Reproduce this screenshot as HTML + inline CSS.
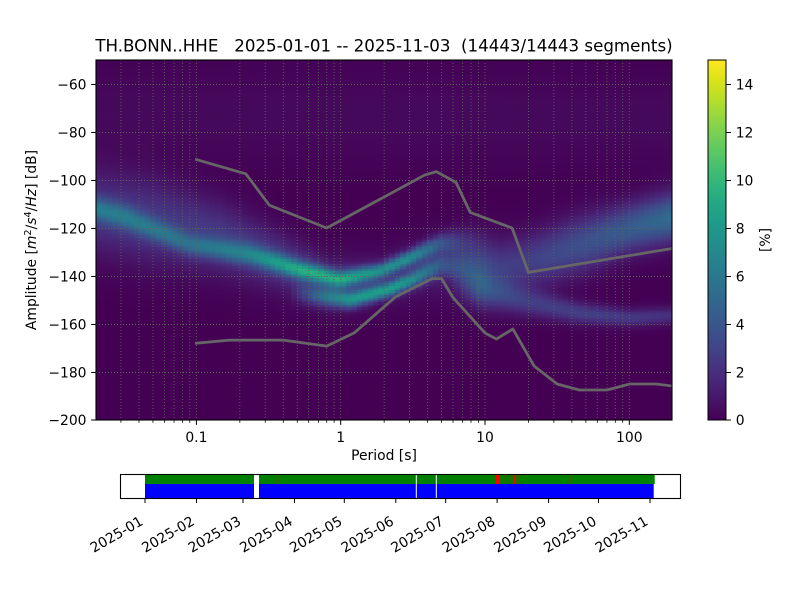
<!DOCTYPE html>
<html>
<head>
<meta charset="utf-8">
<style>
html,body{margin:0;padding:0;background:#ffffff;}
body{width:800px;height:600px;position:relative;overflow:hidden;font-family:"DejaVu Sans","Liberation Sans",sans-serif;}
#c{position:absolute;left:96px;top:60px;width:576px;height:360px;background:#440154;}
#ov{position:absolute;left:0;top:0;}
</style>
</head>
<body>
<canvas id="c" width="576" height="360"></canvas>
<svg id="ov" width="800" height="600" viewBox="0 0 800 600" font-family="DejaVu Sans, Liberation Sans, sans-serif">
<defs>
<clipPath id="pa"><rect x="96" y="60" width="576" height="360"/></clipPath>
<linearGradient id="vir" x1="0" y1="1" x2="0" y2="0">
<stop offset="0" stop-color="#440154"/>
<stop offset="0.05" stop-color="#471365"/>
<stop offset="0.1" stop-color="#482475"/>
<stop offset="0.15" stop-color="#463480"/>
<stop offset="0.2" stop-color="#414487"/>
<stop offset="0.25" stop-color="#3b528b"/>
<stop offset="0.3" stop-color="#355f8d"/>
<stop offset="0.35" stop-color="#2f6c8e"/>
<stop offset="0.4" stop-color="#2a788e"/>
<stop offset="0.45" stop-color="#25848e"/>
<stop offset="0.5" stop-color="#21918c"/>
<stop offset="0.55" stop-color="#1e9c89"/>
<stop offset="0.6" stop-color="#22a884"/>
<stop offset="0.65" stop-color="#2fb47c"/>
<stop offset="0.7" stop-color="#44bf70"/>
<stop offset="0.75" stop-color="#5ec962"/>
<stop offset="0.8" stop-color="#7ad151"/>
<stop offset="0.85" stop-color="#9bd93c"/>
<stop offset="0.9" stop-color="#bddf26"/>
<stop offset="0.95" stop-color="#dfe318"/>
<stop offset="1" stop-color="#fde725"/>
</linearGradient>
</defs>

<!-- grid -->
<g clip-path="url(#pa)" stroke="#5e6258" stroke-width="0.9" stroke-dasharray="1 2" fill="none">
<path d="M120.95 60V420M138.98 60V420M152.96 60V420M164.39 60V420M174.05 60V420M182.42 60V420M189.8 60V420M196.4 60V420M239.84 60V420M265.25 60V420M283.28 60V420M297.26 60V420M308.69 60V420M318.35 60V420M326.72 60V420M334.1 60V420M340.7 60V420M384.14 60V420M409.55 60V420M427.58 60V420M441.56 60V420M452.99 60V420M462.65 60V420M471.02 60V420M478.4 60V420M485 60V420M528.44 60V420M553.85 60V420M571.88 60V420M585.86 60V420M597.29 60V420M606.95 60V420M615.32 60V420M622.7 60V420M629.3 60V420"/>
<path d="M96 84.5H672M96 132.5H672M96 180.5H672M96 228.5H672M96 276.5H672M96 324.5H672M96 372.5H672"/>
</g>

<!-- noise models -->
<g clip-path="url(#pa)" fill="none" stroke="#666666" stroke-width="2.8" stroke-linejoin="round" stroke-linecap="square">
<polyline points="196.4,159.6 245.8,173.8 269.3,205.2 326.7,228 424.4,175.2 436.3,171.6 456.0,182.4 470.2,212.4 512.1,228 528.4,272.4 708.7,242.4"/>
<polyline points="196.4,343.2 229.6,340.1 283.3,340.1 326.7,346.1 354.2,332.9 395.6,296.8 432.1,278.6 441.6,278.6 453.0,297.6 485.0,333 496.4,339 512.9,329 534.1,366 557.1,384 579.3,390 607.0,390 629.9,384 656.4,384 703.7,390"/>
</g>

<!-- axes frame -->
<rect x="96" y="60" width="576" height="360" fill="none" stroke="#000" stroke-width="1.1"/>

<!-- x ticks -->
<g stroke="#000" stroke-width="0.8">
<path d="M196.4 420V424.9M340.7 420V424.9M485 420V424.9M629.3 420V424.9" stroke-width="1"/>
<path d="M120.95 420V422.8M138.98 420V422.8M152.96 420V422.8M164.39 420V422.8M174.05 420V422.8M182.42 420V422.8M189.8 420V422.8M239.84 420V422.8M265.25 420V422.8M283.28 420V422.8M297.26 420V422.8M308.69 420V422.8M318.35 420V422.8M326.72 420V422.8M334.1 420V422.8M384.14 420V422.8M409.55 420V422.8M427.58 420V422.8M441.56 420V422.8M452.99 420V422.8M462.65 420V422.8M471.02 420V422.8M478.4 420V422.8M528.44 420V422.8M553.85 420V422.8M571.88 420V422.8M585.86 420V422.8M597.29 420V422.8M606.95 420V422.8M615.32 420V422.8M622.7 420V422.8"/>
</g>
<g font-size="13.89" fill="#000" text-anchor="middle">
<text x="196.4" y="442">0.1</text>
<text x="340.7" y="442">1</text>
<text x="485" y="442">10</text>
<text x="629.3" y="442">100</text>
<text x="384" y="460">Period [s]</text>
</g>

<!-- y ticks -->
<g stroke="#000" stroke-width="1">
<path d="M91.1 84.5H96M91.1 132.5H96M91.1 180.5H96M91.1 228.5H96M91.1 276.5H96M91.1 324.5H96M91.1 372.5H96M91.1 420H96"/>
</g>
<g font-size="13.89" fill="#000" text-anchor="end">
<text x="86.5" y="89.5">−60</text>
<text x="86.5" y="137.5">−80</text>
<text x="86.5" y="185.5">−100</text>
<text x="86.5" y="233.5">−120</text>
<text x="86.5" y="281.5">−140</text>
<text x="86.5" y="329.5">−160</text>
<text x="86.5" y="377.5">−180</text>
<text x="86.5" y="425">−200</text>
</g>
<text transform="translate(36,240) rotate(-90)" text-anchor="middle" font-size="13.89" fill="#000">Amplitude [<tspan font-style="italic">m</tspan><tspan font-size="9.7" dy="-5">2</tspan><tspan dy="5">/</tspan><tspan font-style="italic">s</tspan><tspan font-size="9.7" dy="-5">4</tspan><tspan dy="5">/</tspan><tspan font-style="italic">Hz</tspan>] [dB]</text>

<!-- title -->
<text x="384" y="51.7" text-anchor="middle" font-size="16.67" fill="#000" style="white-space:pre" xml:space="preserve">TH.BONN..HHE   2025-01-01 -- 2025-11-03  (14443/14443 segments)</text>

<!-- colorbar -->
<rect x="708" y="60" width="18" height="360" fill="url(#vir)"/>
<rect x="708" y="60" width="18" height="360" fill="none" stroke="#000" stroke-width="1"/>
<g stroke="#000" stroke-width="1">
<path d="M726 420H730.9M726 372.5H730.9M726 324.5H730.9M726 276.5H730.9M726 228.5H730.9M726 180.5H730.9M726 132.5H730.9M726 84.5H730.9"/>
</g>
<g font-size="13.89" fill="#000">
<text x="735.7" y="425">0</text>
<text x="735.7" y="377.5">2</text>
<text x="735.7" y="329.5">4</text>
<text x="735.7" y="281.5">6</text>
<text x="735.7" y="233.5">8</text>
<text x="735.7" y="185.5">10</text>
<text x="735.7" y="137.5">12</text>
<text x="735.7" y="89.5">14</text>
</g>
<text transform="translate(770,240) rotate(-90)" text-anchor="middle" font-size="13.89" fill="#000">[%]</text>

<!-- data availability bar -->
<rect x="145" y="475" width="509.7" height="9" fill="#008000"/>
<rect x="145" y="484" width="508.7" height="14" fill="#0000ff"/>
<rect x="254" y="475" width="5" height="23" fill="#fff"/>
<rect x="415.8" y="475" width="1" height="23" fill="#fff"/>
<rect x="435.8" y="475" width="1" height="23" fill="#fff"/>
<g fill="#ff0000">
<rect x="277.2" y="475" width="1" height="9"/>
<rect x="495.7" y="475" width="4" height="9"/>
<rect x="504.8" y="475" width="1" height="9"/>
<rect x="510.8" y="475" width="1" height="9"/>
<rect x="513.7" y="475" width="2" height="9"/>
<rect x="518.8" y="475" width="1" height="9"/>
<rect x="570.8" y="475" width="1" height="9"/>
</g>
<rect x="120.5" y="474.5" width="560" height="24" fill="none" stroke="#000" stroke-width="1.1"/>
<g stroke="#000" stroke-width="1">
<path d="M145 498V503M196.5 498V503M243 498V503M294.5 498V503M344.3 498V503M395.8 498V503M445.7 498V503M497.1 498V503M548.6 498V503M598.5 498V503M650 498V503"/>
</g>
<g font-size="13.89" fill="#000" text-anchor="end">
<text transform="translate(144,524) rotate(-30)">2025-01</text>
<text transform="translate(195.5,524) rotate(-30)">2025-02</text>
<text transform="translate(242,524) rotate(-30)">2025-03</text>
<text transform="translate(293.5,524) rotate(-30)">2025-04</text>
<text transform="translate(343.3,524) rotate(-30)">2025-05</text>
<text transform="translate(394.8,524) rotate(-30)">2025-06</text>
<text transform="translate(444.7,524) rotate(-30)">2025-07</text>
<text transform="translate(496.1,524) rotate(-30)">2025-08</text>
<text transform="translate(547.6,524) rotate(-30)">2025-09</text>
<text transform="translate(597.5,524) rotate(-30)">2025-10</text>
<text transform="translate(649,524) rotate(-30)">2025-11</text>
</g>
</svg>

<script>
(function(){
var cv=document.getElementById('c');
if(!cv||!cv.getContext) return;
var ctx=cv.getContext('2d');
var VS=['#440154','#471365','#482475','#463480','#414487','#3b528b','#355f8d','#2f6c8e','#2a788e','#25848e','#21918c','#1e9c89','#22a884','#2fb47c','#44bf70','#5ec962','#7ad151','#9bd93c','#bddf26','#dfe318','#fde725'];
var VR=VS.map(function(h){return [parseInt(h.substr(1,2),16),parseInt(h.substr(3,2),16),parseInt(h.substr(5,2),16)];});
function vir(t){
  if(t<0)t=0; if(t>1)t=1;
  var f=t*20,i=Math.floor(f); if(i>=20)i=19;
  var r=f-i,a=VR[i],b=VR[i+1];
  return 'rgb('+Math.round(a[0]+(b[0]-a[0])*r)+','+Math.round(a[1]+(b[1]-a[1])*r)+','+Math.round(a[2]+(b[2]-a[2])*r)+')';
}
// components: [x_px, mu_dB, sigma_dB, amp_%]
var A=[[96,-112,3.5,4],[125,-115.5,3.5,4],[190,-127,3,3.5],[250,-131,3,4.5],[300,-137.5,2.6,7],[340,-141.5,2.4,7.5],[380,-138,2.2,6.5],[410,-132.5,2.2,6.5],[440,-126.5,2.8,3.5],[465,-125.5,4,1.5],[500,-130,7,0]];
var B=[[96,-113,12,2.3],[150,-117,12,2.5],[220,-124,10,2.6],[280,-134,8,2.6],[330,-143,7,2.2],[380,-142,7,1.2],[430,-136,8,1.3],[470,-137,9,1.2],[520,-140,10,0]];
var C=[[290,-147,3,0],[320,-148.5,2.6,4],[350,-150,2.4,7],[390,-145.5,2.2,7.5],[415,-141,2.4,6],[440,-135.5,3,3],[465,-136,4,1.5],[495,-142,6,0]];
var D=[[450,-136,7,0],[480,-139,8,2],[530,-134,8,2.8],[580,-127,8,3.6],[630,-120,7,4.3],[672,-115.5,7,5.2]];
var E=[[450,-142,5,0],[480,-146,5,2.3],[530,-151,4,2.5],[580,-155.5,3,2.8],[630,-157.5,2.5,2.5],[672,-156.5,2.5,2]];
var F=[[96,-72,12,0.35],[672,-75,12,0.35]];
var comps=[A,B,C,D,E,F];
function interp(p,x){
  if(x<=p[0][0]) return [p[0][1],p[0][2],p[0][3]];
  for(var i=1;i<p.length;i++){
    if(x<=p[i][0]){
      var a=p[i-1],b=p[i],t=(x-a[0])/(b[0]-a[0]);
      return [a[1]+(b[1]-a[1])*t,a[2]+(b[2]-a[2])*t,a[3]+(b[3]-a[3])*t];
    }
  }
  var l=p[p.length-1]; return [l[1],l[2],l[3]];
}
function dens(x,v){
  var s=0;
  for(var k=0;k<comps.length;k++){
    var p=comps[k];
    if(x<p[0][0]-3||x>p[p.length-1][0]+3) continue;
    var q=interp(p,x); var d=(v-q[0])/q[1];
    s+=q[2]*Math.exp(-0.5*d*d);
  }
  return s;
}
ctx.fillStyle='#440154'; ctx.fillRect(0,0,576,360);
var step=5.43, nx=Math.ceil(576/step);
for(var i=0;i<nx;i++){
  var x0=Math.round(i*step), x1=Math.round((i+1)*step); if(x1>576)x1=576;
  var xc=96+(i+0.5)*step;
  for(var j=0;j<150;j++){
    var vc=-50-j-0.5;
    var y0=Math.round(j*2.4), y1=Math.round((j+1)*2.4);
    ctx.fillStyle=vir(dens(xc,vc)/15);
    ctx.fillRect(x0,y0,x1-x0,y1-y0);
  }
}
})();
</script>
</body>
</html>
